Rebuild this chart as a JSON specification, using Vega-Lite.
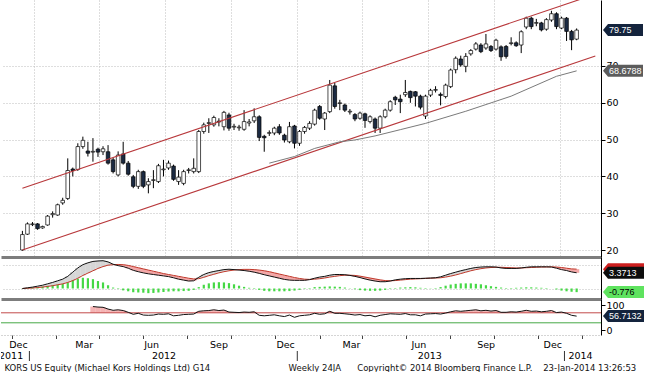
{
 "$schema": "https://vega.github.io/schema/vega-lite/v6.json",
 "background": "white",
 "padding": 0,
 "spacing": 0,
 "title": {"text": "KORS US Equity (Michael Kors Holdings Ltd) G14\u00a0\u00a0\u00a0\u00a0\u00a0\u00a0\u00a0\u00a0\u00a0\u00a0\u00a0\u00a0\u00a0\u00a0\u00a0\u00a0\u00a0\u00a0\u00a0\u00a0\u00a0\u00a0\u00a0\u00a0\u00a0\u00a0\u00a0\u00a0\u00a0Weekly 24JA\u00a0\u00a0\u00a0\u00a0\u00a0\u00a0Copyright© 2014 Bloomberg Finance L.P.\u00a0\u00a0\u00a0\u00a023-Jan-2014 13:26:53", "orient": "bottom", "anchor": "start", "dx": 4, "offset": 2, "font": "DejaVu Sans", "fontSize": 8.5, "fontWeight": "normal", "color": "#111"},
 "datasets": {
  "w": [
   {"d":"2011-12-16","o":20.0,"h":25.2,"l":19.8,"c":24.2,"m":0,"s":0,"g":0.05},
   {"d":"2011-12-23","o":24.3,"h":27.5,"l":24.1,"c":27.1,"m":0.15,"s":0.05,"g":0.1},
   {"d":"2011-12-30","o":26.9,"h":27.6,"l":26.5,"c":27.1,"m":0.3,"s":0.1,"g":0.2},
   {"d":"2012-01-06","o":27.1,"h":27.3,"l":25.5,"c":25.8,"m":0.5,"s":0.2,"g":0.3},
   {"d":"2012-01-13","o":26.0,"h":26.6,"l":25.8,"c":26.4,"m":0.7,"s":0.3,"g":0.4},
   {"d":"2012-01-20","o":26.8,"h":29.5,"l":26.6,"c":29.2,"m":1.0,"s":0.45,"g":0.55},
   {"d":"2012-01-27","o":29.6,"h":30.5,"l":28.8,"c":29.9,"m":1.3,"s":0.6,"g":0.7},
   {"d":"2012-02-03","o":29.5,"h":32.6,"l":29.3,"c":32.3,"m":1.65,"s":0.8,"g":0.85},
   {"d":"2012-02-10","o":32.8,"h":34.2,"l":32.3,"c":33.5,"m":2.0,"s":1.0,"g":1.0},
   {"d":"2012-02-17","o":34.0,"h":44.9,"l":33.6,"c":41.6,"m":2.6,"s":1.3,"g":1.3},
   {"d":"2012-02-24","o":42.0,"h":42.4,"l":40.0,"c":41.6,"m":3.5,"s":1.7,"g":1.8},
   {"d":"2012-03-02","o":41.9,"h":49.0,"l":41.5,"c":48.1,"m":4.4,"s":2.2,"g":2.1},
   {"d":"2012-03-09","o":48.1,"h":50.8,"l":47.5,"c":49.8,"m":5.1,"s":2.8,"g":2.3},
   {"d":"2012-03-16","o":46.9,"h":49.4,"l":45.4,"c":46.3,"m":5.5,"s":3.3,"g":2.2},
   {"d":"2012-03-23","o":46.6,"h":50.4,"l":44.0,"c":46.8,"m":5.8,"s":3.8,"g":2.0,"r":95},
   {"d":"2012-03-30","o":47.4,"h":47.8,"l":45.3,"c":46.6,"m":5.9,"s":4.3,"g":1.6,"r":93},
   {"d":"2012-04-06","o":46.7,"h":48.2,"l":45.8,"c":47.5,"m":5.95,"s":4.7,"g":1.3,"r":92},
   {"d":"2012-04-13","o":46.7,"h":48.5,"l":43.2,"c":43.6,"m":5.7,"s":5.0,"g":0.7,"r":85},
   {"d":"2012-04-20","o":44.5,"h":45.0,"l":40.8,"c":41.3,"m":5.2,"s":5.1,"g":0.2,"r":80},
   {"d":"2012-04-27","o":40.4,"h":46.8,"l":40.0,"c":45.8,"m":4.9,"s":5.15,"g":-0.1,"r":82},
   {"d":"2012-05-04","o":46.1,"h":49.4,"l":43.2,"c":43.6,"m":4.7,"s":5.1,"g":-0.4,"r":79},
   {"d":"2012-05-11","o":43.6,"h":44.2,"l":40.2,"c":40.6,"m":4.35,"s":4.95,"g":-0.6,"r":72},
   {"d":"2012-05-18","o":39.9,"h":40.4,"l":36.8,"c":37.3,"m":3.9,"s":4.7,"g":-0.8,"r":64},
   {"d":"2012-05-25","o":37.3,"h":41.8,"l":36.6,"c":41.3,"m":3.6,"s":4.45,"g":-0.85,"r":68},
   {"d":"2012-06-01","o":41.3,"h":41.6,"l":36.8,"c":37.3,"m":3.35,"s":4.2,"g":-0.9,"r":61},
   {"d":"2012-06-08","o":37.7,"h":39.5,"l":35.4,"c":38.6,"m":3.15,"s":3.95,"g":-1.0,"r":60},
   {"d":"2012-06-15","o":38.9,"h":41.7,"l":36.8,"c":39.1,"m":3.0,"s":3.7,"g":-0.95,"r":61},
   {"d":"2012-06-22","o":38.6,"h":43.4,"l":38.2,"c":42.9,"m":2.85,"s":3.45,"g":-0.85,"r":65},
   {"d":"2012-06-29","o":41.8,"h":44.5,"l":40.0,"c":42.0,"m":2.7,"s":3.2,"g":-0.75,"r":64},
   {"d":"2012-07-06","o":42.3,"h":44.3,"l":41.8,"c":43.6,"m":2.55,"s":3.0,"g":-0.65,"r":66},
   {"d":"2012-07-13","o":42.8,"h":43.2,"l":38.8,"c":39.2,"m":2.3,"s":2.8,"g":-0.6,"r":58},
   {"d":"2012-07-20","o":38.6,"h":41.7,"l":37.7,"c":39.8,"m":2.0,"s":2.6,"g":-0.6,"r":60},
   {"d":"2012-07-27","o":38.1,"h":41.8,"l":37.6,"c":41.3,"m":1.8,"s":2.4,"g":-0.55,"r":63},
   {"d":"2012-08-03","o":41.6,"h":42.3,"l":40.8,"c":41.8,"m":1.6,"s":2.2,"g":-0.5,"r":64},
   {"d":"2012-08-10","o":41.3,"h":44.9,"l":40.8,"c":42.2,"m":1.65,"s":2.05,"g":-0.3,"r":65},
   {"d":"2012-08-17","o":41.3,"h":52.6,"l":40.9,"c":52.2,"m":2.4,"s":2.1,"g":0.3,"r":76},
   {"d":"2012-08-24","o":52.2,"h":54.6,"l":51.6,"c":54.0,"m":3.0,"s":2.4,"g":0.8,"r":78},
   {"d":"2012-08-31","o":54.4,"h":55.8,"l":51.8,"c":54.6,"m":3.4,"s":2.75,"g":1.1,"r":79},
   {"d":"2012-09-07","o":54.0,"h":56.5,"l":53.5,"c":56.0,"m":3.65,"s":3.05,"g":1.3,"r":82},
   {"d":"2012-09-14","o":55.0,"h":55.8,"l":53.6,"c":54.8,"m":3.85,"s":3.35,"g":1.35,"r":79},
   {"d":"2012-09-21","o":53.5,"h":57.8,"l":52.5,"c":57.4,"m":4.05,"s":3.6,"g":1.3,"r":81},
   {"d":"2012-09-28","o":56.7,"h":57.3,"l":52.4,"c":53.1,"m":4.13,"s":3.8,"g":1.15,"r":73},
   {"d":"2012-10-05","o":53.4,"h":54.3,"l":52.6,"c":53.6,"m":4.05,"s":3.95,"g":0.9,"r":72},
   {"d":"2012-10-12","o":53.2,"h":54.0,"l":52.4,"c":53.4,"m":3.95,"s":4.05,"g":0.6,"r":71},
   {"d":"2012-10-19","o":52.8,"h":58.0,"l":52.4,"c":54.9,"m":3.85,"s":4.1,"g":0.35,"r":73},
   {"d":"2012-10-26","o":54.5,"h":55.6,"l":53.6,"c":54.8,"m":3.7,"s":4.1,"g":0.15,"r":72},
   {"d":"2012-11-02","o":55.1,"h":58.5,"l":54.5,"c":56.2,"m":3.5,"s":4.05,"g":-0.1,"r":74},
   {"d":"2012-11-09","o":56.2,"h":56.6,"l":49.6,"c":50.6,"m":3.25,"s":3.95,"g":-0.3,"r":60},
   {"d":"2012-11-16","o":50.9,"h":51.3,"l":46.7,"c":50.5,"m":2.95,"s":3.8,"g":-0.5,"r":58},
   {"d":"2012-11-23","o":51.7,"h":52.5,"l":51.0,"c":51.9,"m":2.7,"s":3.6,"g":-0.6,"r":60},
   {"d":"2012-11-30","o":51.8,"h":53.5,"l":51.2,"c":53.1,"m":2.45,"s":3.35,"g":-0.6,"r":62},
   {"d":"2012-12-07","o":53.5,"h":54.2,"l":51.3,"c":51.8,"m":2.2,"s":3.1,"g":-0.6,"r":58},
   {"d":"2012-12-14","o":51.2,"h":51.6,"l":49.2,"c":49.9,"m":1.95,"s":2.85,"g":-0.6,"r":55},
   {"d":"2012-12-21","o":49.4,"h":54.8,"l":49.0,"c":53.5,"m":1.8,"s":2.6,"g":-0.55,"r":61},
   {"d":"2012-12-28","o":53.7,"h":54.0,"l":47.6,"c":49.0,"m":1.75,"s":2.35,"g":-0.45,"r":52},
   {"d":"2013-01-04","o":49.0,"h":52.6,"l":48.3,"c":52.2,"m":1.75,"s":2.15,"g":-0.3,"r":58},
   {"d":"2013-01-11","o":52.2,"h":53.7,"l":51.6,"c":53.3,"m":1.75,"s":2.0,"g":-0.1,"r":60},
   {"d":"2013-01-18","o":53.1,"h":55.0,"l":52.6,"c":54.4,"m":1.9,"s":1.95,"g":0.1,"r":62},
   {"d":"2013-01-25","o":54.2,"h":58.4,"l":53.8,"c":58.0,"m":2.2,"s":2.0,"g":0.3,"r":68},
   {"d":"2013-02-01","o":59.0,"h":59.4,"l":55.4,"c":55.8,"m":2.45,"s":2.1,"g":0.35,"r":64},
   {"d":"2013-02-08","o":55.6,"h":57.5,"l":52.6,"c":57.2,"m":2.6,"s":2.25,"g":0.4,"r":66},
   {"d":"2013-02-15","o":57.6,"h":66.2,"l":57.2,"c":64.8,"m":2.85,"s":2.45,"g":0.45,"r":76},
   {"d":"2013-02-22","o":64.6,"h":65.4,"l":58.4,"c":59.0,"m":3.0,"s":2.6,"g":0.4,"r":68},
   {"d":"2013-03-01","o":59.8,"h":60.8,"l":58.0,"c":60.0,"m":3.0,"s":2.75,"g":0.35,"r":68},
   {"d":"2013-03-08","o":59.4,"h":59.8,"l":57.5,"c":58.0,"m":2.95,"s":2.85,"g":0.2,"r":66},
   {"d":"2013-03-15","o":57.5,"h":58.3,"l":56.8,"c":57.7,"m":2.8,"s":2.85,"g":0.05,"r":64},
   {"d":"2013-03-22","o":56.8,"h":57.2,"l":55.0,"c":55.6,"m":2.6,"s":2.8,"g":-0.15,"r":61},
   {"d":"2013-03-29","o":55.8,"h":57.6,"l":55.4,"c":57.2,"m":2.35,"s":2.65,"g":-0.35,"r":63},
   {"d":"2013-04-05","o":57.0,"h":57.3,"l":53.2,"c":55.2,"m":2.05,"s":2.45,"g":-0.45,"r":58},
   {"d":"2013-04-12","o":54.9,"h":56.6,"l":54.4,"c":56.2,"m":1.8,"s":2.25,"g":-0.5,"r":60},
   {"d":"2013-04-19","o":55.6,"h":56.0,"l":51.8,"c":53.1,"m":1.6,"s":2.05,"g":-0.5,"r":54},
   {"d":"2013-04-26","o":53.1,"h":56.6,"l":51.8,"c":56.2,"m":1.45,"s":1.85,"g":-0.45,"r":60},
   {"d":"2013-05-03","o":56.2,"h":58.4,"l":55.8,"c":58.0,"m":1.45,"s":1.7,"g":-0.3,"r":63},
   {"d":"2013-05-10","o":58.0,"h":60.7,"l":57.6,"c":60.3,"m":1.6,"s":1.65,"g":-0.1,"r":66},
   {"d":"2013-05-17","o":61.5,"h":61.9,"l":59.4,"c":60.8,"m":1.85,"s":1.7,"g":0.1,"r":65},
   {"d":"2013-05-24","o":61.0,"h":62.2,"l":57.2,"c":60.3,"m":2.0,"s":1.8,"g":0.2,"r":64},
   {"d":"2013-05-31","o":62.2,"h":66.2,"l":61.6,"c":62.8,"m":2.1,"s":1.9,"g":0.25,"r":67},
   {"d":"2013-06-07","o":63.1,"h":63.3,"l":60.0,"c":61.4,"m":2.15,"s":2.0,"g":0.3,"r":62},
   {"d":"2013-06-14","o":63.0,"h":63.2,"l":59.0,"c":61.8,"m":2.15,"s":2.05,"g":0.25,"r":62},
   {"d":"2013-06-21","o":61.8,"h":62.2,"l":58.2,"c":58.8,"m":2.15,"s":2.1,"g":0.15,"r":58},
   {"d":"2013-06-28","o":56.4,"h":62.2,"l":55.6,"c":61.8,"m":2.2,"s":2.15,"g":0.1,"r":65},
   {"d":"2013-07-05","o":62.1,"h":63.8,"l":61.6,"c":63.4,"m":2.25,"s":2.2,"g":0.05,"r":66},
   {"d":"2013-07-12","o":63.4,"h":64.5,"l":62.8,"c":63.6,"m":2.3,"s":2.25,"g":0.1,"r":67},
   {"d":"2013-07-19","o":62.3,"h":62.8,"l":59.3,"c":62.0,"m":2.5,"s":2.3,"g":0.3,"r":65},
   {"d":"2013-07-26","o":61.7,"h":65.2,"l":61.2,"c":64.8,"m":2.85,"s":2.45,"g":0.6,"r":69},
   {"d":"2013-08-02","o":64.4,"h":69.3,"l":64.0,"c":68.9,"m":3.2,"s":2.65,"g":0.85,"r":74},
   {"d":"2013-08-09","o":69.0,"h":72.6,"l":68.0,"c":72.1,"m":3.5,"s":2.9,"g":1.0,"r":78},
   {"d":"2013-08-16","o":71.9,"h":72.8,"l":69.8,"c":70.3,"m":3.8,"s":3.2,"g":1.1,"r":76},
   {"d":"2013-08-23","o":69.9,"h":73.5,"l":68.3,"c":72.6,"m":4.05,"s":3.5,"g":1.1,"r":78},
   {"d":"2013-08-30","o":73.3,"h":74.6,"l":72.8,"c":74.2,"m":4.3,"s":3.8,"g":1.1,"r":80},
   {"d":"2013-09-06","o":74.6,"h":76.5,"l":74.2,"c":76.0,"m":4.5,"s":4.05,"g":1.0,"r":82},
   {"d":"2013-09-13","o":75.7,"h":76.2,"l":73.5,"c":73.9,"m":4.6,"s":4.25,"g":0.9,"r":78},
   {"d":"2013-09-20","o":74.9,"h":78.7,"l":74.4,"c":76.0,"m":4.65,"s":4.4,"g":0.7,"r":80},
   {"d":"2013-09-27","o":75.3,"h":75.7,"l":73.8,"c":74.2,"m":4.65,"s":4.5,"g":0.5,"r":77},
   {"d":"2013-10-04","o":74.6,"h":77.4,"l":74.2,"c":77.0,"m":4.6,"s":4.55,"g":0.35,"r":79},
   {"d":"2013-10-11","o":75.2,"h":75.6,"l":71.4,"c":72.5,"m":4.4,"s":4.55,"g":0.2,"r":72},
   {"d":"2013-10-18","o":75.3,"h":75.7,"l":72.0,"c":72.6,"m":4.3,"s":4.5,"g":0.1,"r":72},
   {"d":"2013-10-25","o":76.1,"h":77.8,"l":75.6,"c":76.3,"m":4.3,"s":4.45,"g":0.1,"r":74},
   {"d":"2013-11-01","o":76.3,"h":76.7,"l":75.2,"c":75.5,"m":4.3,"s":4.4,"g":0.15,"r":73},
   {"d":"2013-11-08","o":75.7,"h":79.7,"l":73.5,"c":79.3,"m":4.4,"s":4.4,"g":0.2,"r":76},
   {"d":"2013-11-15","o":80.6,"h":83.4,"l":80.0,"c":83.0,"m":4.55,"s":4.45,"g":0.25,"r":80},
   {"d":"2013-11-22","o":83.0,"h":83.4,"l":80.0,"c":80.7,"m":4.65,"s":4.5,"g":0.25,"r":76},
   {"d":"2013-11-29","o":81.6,"h":82.8,"l":80.8,"c":81.8,"m":4.65,"s":4.55,"g":0.2,"r":77},
   {"d":"2013-12-06","o":81.7,"h":82.0,"l":79.4,"c":79.8,"m":4.65,"s":4.6,"g":0.15,"r":74},
   {"d":"2013-12-13","o":80.0,"h":83.0,"l":79.6,"c":82.6,"m":4.65,"s":4.6,"g":0.1,"r":76},
   {"d":"2013-12-20","o":82.5,"h":85.0,"l":82.0,"c":84.2,"m":4.6,"s":4.65,"g":0.0,"r":79},
   {"d":"2013-12-27","o":84.2,"h":84.6,"l":80.0,"c":80.7,"m":4.35,"s":4.6,"g":-0.2,"r":71},
   {"d":"2014-01-03","o":80.3,"h":83.4,"l":80.0,"c":83.0,"m":4.05,"s":4.5,"g":-0.45,"r":73},
   {"d":"2014-01-10","o":83.0,"h":83.3,"l":76.8,"c":79.4,"m":3.85,"s":4.35,"g":-0.6,"r":68},
   {"d":"2014-01-17","o":79.4,"h":79.8,"l":74.3,"c":77.1,"m":3.55,"s":4.2,"g":-0.7,"r":60},
   {"d":"2014-01-24","o":77.3,"h":80.2,"l":77.0,"c":79.75,"m":3.37,"s":4.15,"g":-0.78,"r":56.7}
  ],
  "ch": [
   {"g":"upper","d":"2011-12-16","v":36.8},{"g":"upper","d":"2014-02-19","v":89.5},
   {"g":"lower","d":"2011-12-16","v":20.0},{"g":"lower","d":"2014-02-19","v":72.7}
  ],
  "ma": [
   {"d":"2012-11-23","v":43.6},{"d":"2012-12-28","v":45.4},{"d":"2013-01-25","v":47.6},{"d":"2013-03-01","v":49.4},
   {"d":"2013-03-22","v":49.9},{"d":"2013-04-19","v":51.0},{"d":"2013-05-24","v":52.7},{"d":"2013-06-28","v":54.4},
   {"d":"2013-08-23","v":57.7},{"d":"2013-10-25","v":61.8},{"d":"2013-12-27","v":67.2},{"d":"2014-01-24","v":68.6788}
  ],
  "t1": [{"k":"close","v":79.75,"t":"79.75"},{"k":"ma","v":68.6788,"t":"68.6788"}],
  "t2": [{"k":"sig","v":4.15,"t":""},{"k":"macd","v":3.3713,"t":"3.3713"},{"k":"hist","v":-0.776,"t":"-0.776"}],
  "t3": [{"k":"rsi","v":56.7132,"t":"56.7132"}],
  "lv": [{"k":"ob","v":70},{"k":"os","v":30}],
  "mo": [{"d":"2011-12-17","t":"Dec"},{"d":"2012-03-16","t":"Mar"},{"d":"2012-06-16","t":"Jun"},{"d":"2012-09-16","t":"Sep"},{"d":"2012-12-16","t":"Dec"},{"d":"2013-03-16","t":"Mar"},{"d":"2013-06-16","t":"Jun"},{"d":"2013-09-16","t":"Sep"},{"d":"2013-12-16","t":"Dec"}],
  "yr": [{"d":"2011-12-07","t":"2011"},{"d":"2012-07-03","t":"2012"},{"d":"2013-07-01","t":"2013"},{"d":"2014-01-23","t":"2014"}],
  "ys": [{"d":"2012-01-01"},{"d":"2013-01-01"},{"d":"2014-01-01"}]
 },
 "vconcat": [
  {
   "width": 600, "height": 257,
   "layer": [
    {"data": {"name": "w"}, "mark": {"type": "rule", "color": "#000", "strokeWidth": 1},
     "encoding": {
      "x": {"field": "d", "type": "temporal", "title": null, "scale": {"type": "utc", "domain": [{"year":2011,"month":11,"date":23,"hours":5,"utc":true},{"year":2014,"month":2,"date":19,"hours":22,"utc":true}]},
            "axis": {"orient": "bottom", "values": [{"year":2012,"month":1,"date":1,"utc":true},{"year":2012,"month":4,"date":1,"utc":true},{"year":2012,"month":7,"date":1,"utc":true},{"year":2012,"month":10,"date":1,"utc":true},{"year":2013,"month":1,"date":1,"utc":true},{"year":2013,"month":4,"date":1,"utc":true},{"year":2013,"month":7,"date":1,"utc":true},{"year":2013,"month":10,"date":1,"utc":true},{"year":2014,"month":1,"date":1,"utc":true}],
                     "grid": true, "gridColor": "#bdbdbd", "gridDash": [1, 2], "labels": false, "ticks": false, "domainColor": "#7d7d7d", "domainWidth": 3, "title": null, "zindex": 0}},
      "y": {"field": "l", "type": "quantitative", "title": null, "scale": {"domain": [18.1, 87.93], "nice": false, "zero": false},
            "axis": {"orient": "right", "values": [20, 30, 40, 50, 60, 70], "grid": true, "gridColor": "#bdbdbd", "gridDash": [1, 2], "domainColor": "#000", "tickColor": "#000", "tickSize": 4, "labelPadding": 1, "labelFontSize": 9.5, "labelFont": "DejaVu Sans", "labelColor": "#000", "title": null, "zindex": 0}},
      "y2": {"field": "h"}
     }},
    {"data": {"name": "w"}, "mark": {"type": "bar", "size": 3.6, "stroke": "#000", "strokeWidth": 0.7},
     "encoding": {
      "x": {"field": "d", "type": "temporal", "title": null, "scale": {"type": "utc", "domain": [{"year":2011,"month":11,"date":23,"hours":5,"utc":true},{"year":2014,"month":2,"date":19,"hours":22,"utc":true}]}},
      "y": {"field": "o", "type": "quantitative", "title": null, "scale": {"domain": [18.1, 87.93], "nice": false, "zero": false}},
      "y2": {"field": "c"},
      "fill": {"condition": {"test": "datum.c >= datum.o", "value": "#ffffff"}, "value": "#1b2a42"}
     }},
    {"data": {"name": "ch"}, "mark": {"type": "line", "color": "#b8383b", "strokeWidth": 1.1, "clip": true},
     "encoding": {
      "x": {"field": "d", "type": "temporal", "title": null, "scale": {"type": "utc", "domain": [{"year":2011,"month":11,"date":23,"hours":5,"utc":true},{"year":2014,"month":2,"date":19,"hours":22,"utc":true}]}},
      "y": {"field": "v", "type": "quantitative", "title": null, "scale": {"domain": [18.1, 87.93], "nice": false, "zero": false}},
      "detail": {"field": "g"}
     }},
    {"data": {"name": "ma"}, "mark": {"type": "line", "color": "#7a7a7a", "strokeWidth": 1},
     "encoding": {
      "x": {"field": "d", "type": "temporal", "title": null, "scale": {"type": "utc", "domain": [{"year":2011,"month":11,"date":23,"hours":5,"utc":true},{"year":2014,"month":2,"date":19,"hours":22,"utc":true}]}},
      "y": {"field": "v", "type": "quantitative", "title": null, "scale": {"domain": [18.1, 87.93], "nice": false, "zero": false}}
     }},
    {"data": {"name": "t1"}, "mark": {"type": "point", "shape": "M0.1,0L0.35,-0.3L2.1,-0.3L2.1,0.3L0.35,0.3Z", "size": 1600, "filled": true, "opacity": 1, "strokeWidth": 0},
     "encoding": {
      "x": {"value": "width"},
      "y": {"field": "v", "type": "quantitative", "title": null, "scale": {"domain": [18.1, 87.93], "nice": false, "zero": false}},
      "color": {"field": "k", "type": "nominal", "legend": null, "scale": {"domain": ["close", "ma", "sig", "macd", "hist", "rsi"], "range": ["#14243d", "#5c5c5c", "#cc1f1f", "#0d0d0d", "#5fe35f", "#14243d"]}}
     }},
    {"data": {"name": "t1"}, "mark": {"type": "text", "align": "left", "baseline": "middle", "dx": 8, "font": "Liberation Sans", "fontSize": 9},
     "encoding": {
      "x": {"value": "width"},
      "y": {"field": "v", "type": "quantitative", "title": null, "scale": {"domain": [18.1, 87.93], "nice": false, "zero": false}},
      "text": {"field": "t"},
      "color": {"condition": {"test": "datum.k === 'hist'", "value": "#000"}, "value": "#fff"}
     }}
   ]
  },
  {
   "width": 600, "height": 42,
   "layer": [
    {"data": {"name": "w"}, "mark": {"type": "bar", "size": 5.3},
     "encoding": {
      "x": {"field": "d", "type": "temporal", "title": null, "scale": {"type": "utc", "domain": [{"year":2011,"month":11,"date":23,"hours":5,"utc":true},{"year":2014,"month":2,"date":19,"hours":22,"utc":true}]},
            "axis": {"orient": "bottom", "labels": false, "ticks": false, "grid": false, "domainColor": "#7d7d7d", "domainWidth": 3, "title": null}},
      "y": {"field": "m", "type": "quantitative", "title": null, "scale": {"domain": [-2.25, 6.75], "nice": false, "zero": false},
            "axis": {"orient": "right", "values": [0, 5], "grid": true, "gridColor": "#bdbdbd", "gridDash": [1, 2], "labels": false, "ticks": false, "domainColor": "#000", "title": null, "zindex": 0}},
      "y2": {"field": "s"},
      "fill": {"condition": {"test": "datum.m >= datum.s", "value": "#d6d6d6"}, "value": "#f3a7a7"}
     }},
    {"data": {"name": "w"}, "mark": {"type": "bar", "size": 2.2, "color": "#45d845"},
     "encoding": {
      "x": {"field": "d", "type": "temporal", "title": null, "scale": {"type": "utc", "domain": [{"year":2011,"month":11,"date":23,"hours":5,"utc":true},{"year":2014,"month":2,"date":19,"hours":22,"utc":true}]}},
      "y": {"field": "g", "type": "quantitative", "title": null, "scale": {"domain": [-2.25, 6.75], "nice": false, "zero": false}},
      "y2": {"datum": 0}
     }},
    {"data": {"name": "w"}, "mark": {"type": "line", "color": "#c0392b", "strokeWidth": 1},
     "encoding": {
      "x": {"field": "d", "type": "temporal", "title": null, "scale": {"type": "utc", "domain": [{"year":2011,"month":11,"date":23,"hours":5,"utc":true},{"year":2014,"month":2,"date":19,"hours":22,"utc":true}]}},
      "y": {"field": "s", "type": "quantitative", "title": null, "scale": {"domain": [-2.25, 6.75], "nice": false, "zero": false}}
     }},
    {"data": {"name": "w"}, "mark": {"type": "line", "color": "#111", "strokeWidth": 1},
     "encoding": {
      "x": {"field": "d", "type": "temporal", "title": null, "scale": {"type": "utc", "domain": [{"year":2011,"month":11,"date":23,"hours":5,"utc":true},{"year":2014,"month":2,"date":19,"hours":22,"utc":true}]}},
      "y": {"field": "m", "type": "quantitative", "title": null, "scale": {"domain": [-2.25, 6.75], "nice": false, "zero": false}}
     }},
    {"data": {"name": "t2"}, "mark": {"type": "point", "shape": "M0.1,0L0.35,-0.3L2.15,-0.3L2.15,0.3L0.35,0.3Z", "size": 1600, "filled": true, "opacity": 1, "strokeWidth": 0},
     "encoding": {
      "x": {"value": "width"},
      "y": {"field": "v", "type": "quantitative", "title": null, "scale": {"domain": [-2.25, 6.75], "nice": false, "zero": false}},
      "color": {"field": "k", "type": "nominal", "legend": null, "scale": {"domain": ["close", "ma", "sig", "macd", "hist", "rsi"], "range": ["#14243d", "#5c5c5c", "#cc1f1f", "#0d0d0d", "#5fe35f", "#14243d"]}}
     }},
    {"data": {"name": "t2"}, "mark": {"type": "text", "align": "left", "baseline": "middle", "dx": 8, "font": "Liberation Sans", "fontSize": 9},
     "encoding": {
      "x": {"value": "width"},
      "y": {"field": "v", "type": "quantitative", "title": null, "scale": {"domain": [-2.25, 6.75], "nice": false, "zero": false}},
      "text": {"field": "t"},
      "color": {"condition": {"test": "datum.k === 'hist'", "value": "#000"}, "value": "#fff"}
     }}
   ]
  },
  {
   "width": 600, "height": 36,
   "layer": [
    {"data": {"name": "w"}, "transform": [{"filter": "datum.r > 70"}], "mark": {"type": "bar", "size": 5.3, "color": "#f5b3b3"},
     "encoding": {
      "x": {"field": "d", "type": "temporal", "title": null, "scale": {"type": "utc", "domain": [{"year":2011,"month":11,"date":23,"hours":5,"utc":true},{"year":2014,"month":2,"date":19,"hours":22,"utc":true}]},
            "axis": {"orient": "bottom", "values": [{"year":2011,"month":12,"date":1,"utc":true},{"year":2012,"month":1,"date":1,"utc":true},{"year":2012,"month":2,"date":1,"utc":true},{"year":2012,"month":3,"date":1,"utc":true},{"year":2012,"month":4,"date":1,"utc":true},{"year":2012,"month":5,"date":1,"utc":true},{"year":2012,"month":6,"date":1,"utc":true},{"year":2012,"month":7,"date":1,"utc":true},{"year":2012,"month":8,"date":1,"utc":true},{"year":2012,"month":9,"date":1,"utc":true},{"year":2012,"month":10,"date":1,"utc":true},{"year":2012,"month":11,"date":1,"utc":true},{"year":2012,"month":12,"date":1,"utc":true},{"year":2013,"month":1,"date":1,"utc":true},{"year":2013,"month":2,"date":1,"utc":true},{"year":2013,"month":3,"date":1,"utc":true},{"year":2013,"month":4,"date":1,"utc":true},{"year":2013,"month":5,"date":1,"utc":true},{"year":2013,"month":6,"date":1,"utc":true},{"year":2013,"month":7,"date":1,"utc":true},{"year":2013,"month":8,"date":1,"utc":true},{"year":2013,"month":9,"date":1,"utc":true},{"year":2013,"month":10,"date":1,"utc":true},{"year":2013,"month":11,"date":1,"utc":true},{"year":2013,"month":12,"date":1,"utc":true},{"year":2014,"month":1,"date":1,"utc":true},{"year":2014,"month":2,"date":1,"utc":true}],
                     "labels": false, "grid": false, "tickSize": 3.5, "tickColor": "#444", "domainColor": "#aaaaaa", "domainDash": [1, 2], "title": null}},
      "y": {"field": "r", "type": "quantitative", "title": null, "scale": {"domain": [-18.8, 125.2], "nice": false, "zero": false},
            "axis": {"orient": "right", "values": [0, 100], "grid": false, "tickSize": 4, "tickColor": "#000", "labelPadding": 1, "labelFontSize": 9.5, "labelFont": "DejaVu Sans", "labelColor": "#000", "domainColor": "#000", "title": null, "zindex": 0}},
      "y2": {"datum": 70}
     }},
    {"data": {"name": "lv"}, "mark": {"type": "rule", "strokeWidth": 1},
     "encoding": {
      "y": {"field": "v", "type": "quantitative", "title": null, "scale": {"domain": [-18.8, 125.2], "nice": false, "zero": false}},
      "color": {"condition": {"test": "datum.k === 'ob'", "value": "#c24a4a"}, "value": "#46a846"}
     }},
    {"data": {"name": "w"}, "mark": {"type": "line", "color": "#111", "strokeWidth": 1},
     "encoding": {
      "x": {"field": "d", "type": "temporal", "title": null, "scale": {"type": "utc", "domain": [{"year":2011,"month":11,"date":23,"hours":5,"utc":true},{"year":2014,"month":2,"date":19,"hours":22,"utc":true}]}},
      "y": {"field": "r", "type": "quantitative", "title": null, "scale": {"domain": [-18.8, 125.2], "nice": false, "zero": false}}
     }},
    {"data": {"name": "t3"}, "mark": {"type": "point", "shape": "M0.1,0L0.35,-0.3L2.15,-0.3L2.15,0.3L0.35,0.3Z", "size": 1600, "filled": true, "opacity": 1, "strokeWidth": 0},
     "encoding": {
      "x": {"value": "width"},
      "y": {"field": "v", "type": "quantitative", "title": null, "scale": {"domain": [-18.8, 125.2], "nice": false, "zero": false}},
      "color": {"field": "k", "type": "nominal", "legend": null, "scale": {"domain": ["close", "ma", "sig", "macd", "hist", "rsi"], "range": ["#14243d", "#5c5c5c", "#cc1f1f", "#0d0d0d", "#5fe35f", "#14243d"]}}
     }},
    {"data": {"name": "t3"}, "mark": {"type": "text", "align": "left", "baseline": "middle", "dx": 8, "font": "Liberation Sans", "fontSize": 9},
     "encoding": {
      "x": {"value": "width"},
      "y": {"field": "v", "type": "quantitative", "title": null, "scale": {"domain": [-18.8, 125.2], "nice": false, "zero": false}},
      "text": {"field": "t"},
      "color": {"value": "#fff"}
     }}
   ]
  },
  {
   "width": 600, "height": 11,
   "data": {"name": "mo"},
   "mark": {"type": "text", "font": "DejaVu Sans", "fontSize": 9.5, "color": "#000", "baseline": "middle"},
   "encoding": {
    "x": {"field": "d", "type": "temporal", "title": null, "scale": {"type": "utc", "domain": [{"year":2011,"month":11,"date":23,"hours":5,"utc":true},{"year":2014,"month":2,"date":19,"hours":22,"utc":true}]}, "axis": null},
    "text": {"field": "t"}
   }
  },
  {
   "width": 600, "height": 10,
   "layer": [
    {"data": {"name": "ys"}, "mark": {"type": "rule", "color": "#333", "strokeWidth": 1},
     "encoding": {
      "x": {"field": "d", "type": "temporal", "title": null, "scale": {"type": "utc", "domain": [{"year":2011,"month":11,"date":23,"hours":5,"utc":true},{"year":2014,"month":2,"date":19,"hours":22,"utc":true}]}, "axis": null}
     }},
    {"data": {"name": "yr"}, "mark": {"type": "text", "font": "DejaVu Sans", "fontSize": 9.5, "color": "#000", "clip": true, "baseline": "middle"},
     "encoding": {
      "x": {"field": "d", "type": "temporal", "title": null, "scale": {"type": "utc", "domain": [{"year":2011,"month":11,"date":23,"hours":5,"utc":true},{"year":2014,"month":2,"date":19,"hours":22,"utc":true}]}, "axis": null},
      "text": {"field": "t"}
     }}
   ]
  }
 ],
 "config": {"view": {"stroke": null}, "font": "DejaVu Sans"}
}
